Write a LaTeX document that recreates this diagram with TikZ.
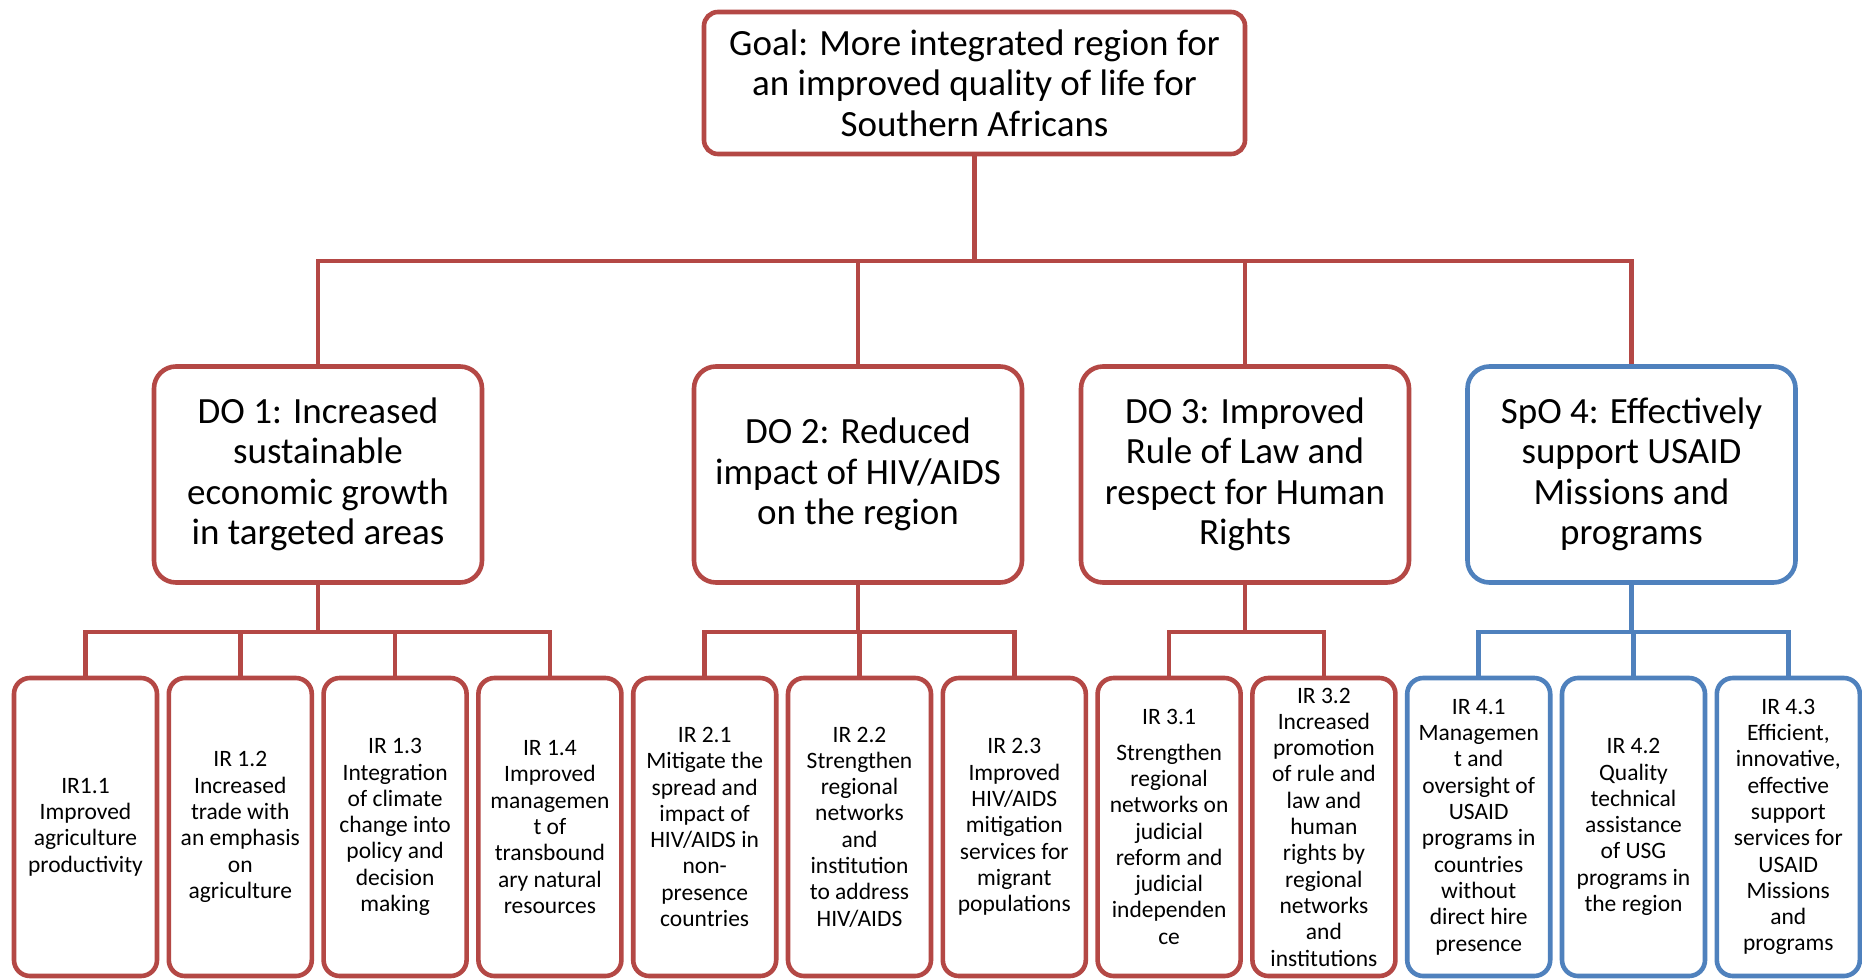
\documentclass[tikz,border=0pt]{standalone}
\usepackage{fontspec}
\setmainfont{Carlito}
\definecolor{rd}{RGB}{180,72,69}
\definecolor{bl}{RGB}{79,129,189}
\begin{document}
\begin{tikzpicture}[x=1pt,y=-1pt,
  box/.style={draw=rd, line width=4.6pt, fill=white, align=center, inner sep=0pt},
  goalbox/.style={box, rounded corners=14pt, minimum width=541pt, minimum height=142pt, font=\fontsize{37}{40.5}\selectfont},
  dobox/.style={box, rounded corners=22pt, minimum width=328pt, minimum height=216pt, font=\fontsize{37}{40.5}\selectfont},
  irbox/.style={box, rounded corners=16pt, minimum width=143pt, minimum height=298pt, font=\fontsize{23.5}{26.3}\selectfont},
  bluebox/.style={draw=bl},
  conn/.style={draw=rd, line width=4.6pt},
  bconn/.style={draw=bl, line width=4.6pt},
]
\fill[white] (0,0) rectangle (1862,979);
\useasboundingbox (0,0) rectangle (1862,979);

\coordinate (busA) at (0,261);
\coordinate (busB) at (0,632);

\node[goalbox] (goal) at (974.5,83) {Goal: More integrated region for\\an improved quality of life for\\Southern Africans};

\node[dobox] (do1) at (318,474.5) {DO 1: Increased\\sustainable\\economic growth\\in targeted areas};
\node[dobox] (do2) at (858,474.5) {DO 2: Reduced\\impact of HIV/AIDS\\on the region};
\node[dobox] (do3) at (1245,474.5) {DO 3: Improved\\Rule of Law and\\respect for Human\\Rights};
\node[dobox,bluebox] (do4) at (1631.5,474.5) {SpO 4: Effectively\\support USAID\\Missions and\\programs};

\node[irbox] (ir11) at (85.5,827) {IR1.1\\Improved\\agriculture\\productivity};
\node[irbox] (ir12) at (240.3,827) {IR 1.2\\Increased\\trade with\\an emphasis\\on\\agriculture};
\node[irbox] (ir13) at (395.1,827) {IR 1.3\\Integration\\of climate\\change into\\policy and\\decision\\making};
\node[irbox] (ir14) at (549.9,827) {IR 1.4\\Improved\\managemen\\t of\\transbound\\ary natural\\resources};
\node[irbox] (ir21) at (704.7,827) {IR 2.1\\Mitigate the\\spread and\\impact of\\HIV/AIDS in\\non-\\presence\\countries};
\node[irbox] (ir22) at (859.5,827) {IR 2.2\\Strengthen\\regional\\networks\\and\\institution\\to address\\HIV/AIDS};
\node[irbox] (ir23) at (1014.3,827) {IR 2.3\\Improved\\HIV/AIDS\\mitigation\\services for\\migrant\\populations};
\node[irbox] (ir31) at (1169.1,827) {IR 3.1\\[9pt]Strengthen\\regional\\networks on\\judicial\\reform and\\judicial\\independen\\ce};
\node[irbox] (ir32) at (1323.9,827) {IR 3.2\\Increased\\promotion\\of rule and\\law and\\human\\rights by\\regional\\networks\\and\\institutions};
\node[irbox,bluebox] (ir41) at (1478.7,827) {IR 4.1\\Managemen\\t and\\oversight of\\USAID\\programs in\\countries\\without\\direct hire\\presence};
\node[irbox,bluebox] (ir42) at (1633.5,827) {IR 4.2\\Quality\\technical\\assistance\\of USG\\programs in\\the region};
\node[irbox,bluebox] (ir43) at (1788.3,827) {IR 4.3\\Efficient,\\innovative,\\effective\\support\\services for\\USAID\\Missions\\and\\programs};

\foreach \d in {do1,do2,do3,do4}
  \draw[conn] (goal.south) -- (goal.south |- busA) -| (\d.north);
\foreach \c in {ir11,ir12,ir13,ir14}
  \draw[conn] (do1.south) -- (do1.south |- busB) -| (\c.north);
\foreach \c in {ir21,ir22,ir23}
  \draw[conn] (do2.south) -- (do2.south |- busB) -| (\c.north);
\foreach \c in {ir31,ir32}
  \draw[conn] (do3.south) -- (do3.south |- busB) -| (\c.north);
\foreach \c in {ir41,ir42,ir43}
  \draw[bconn] (do4.south) -- (do4.south |- busB) -| (\c.north);
\end{tikzpicture}
\end{document}
